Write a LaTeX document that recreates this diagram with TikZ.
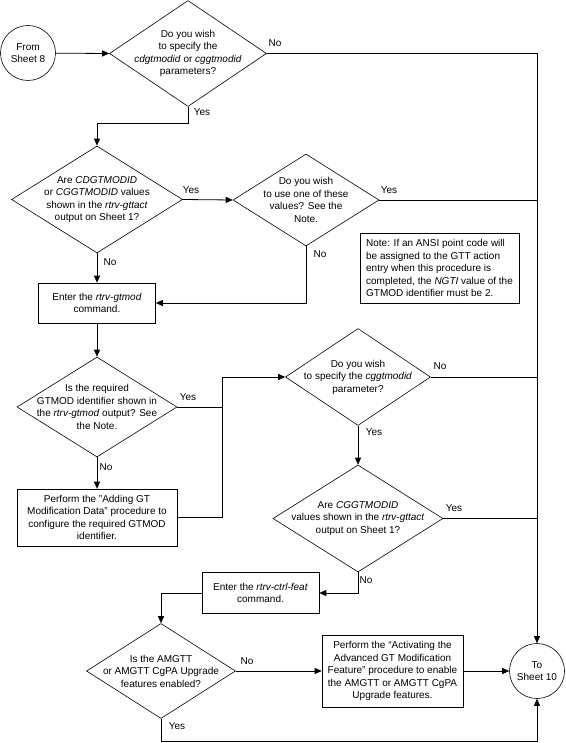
\documentclass[tikz,border=0pt]{standalone}
\usepackage{fontspec}
\setmainfont{Liberation Sans}
\usetikzlibrary{shapes.geometric, arrows.meta}

\begin{document}
\begin{tikzpicture}[x=1pt, y=-1pt, font=\fontsize{10}{12.5}\selectfont,
  decision/.style={draw, diamond, inner sep=0pt, line width=0.6pt},
  procbox/.style={draw, rectangle, inner sep=0pt, line width=0.6pt, align=center},
  sheet/.style={draw, circle, minimum size=55pt, inner sep=0pt, line width=0.6pt, align=center},
  flow/.style={line width=0.8pt, -{Triangle[length=7pt,width=6pt]}},
  plain/.style={line width=0.8pt}]
\useasboundingbox (0,0) rectangle (565,743);
% sheet connectors
\node[sheet] (from8) at (28,53) {From\\Sheet 8};
\node[sheet] (to10) at (537,671) {To\\Sheet 10};
% decisions
\node[decision, minimum width=157pt, minimum height=106pt] (q1) at (188,53.5) {};
\node[align=center] (q1t) at (q1) {Do you wish\\to specify the\\\textit{cdgtmodid} or \textit{cggtmodid}\\parameters?};
\node[decision, minimum width=171pt, minimum height=107pt] (q2) at (97,199.5) {};
\node[align=center] (q2t) at (q2) {Are \textit{CDGTMODID}\\or \textit{CGGTMODID} values\\shown in the \textit{rtrv-gttact}\\output on Sheet 1?};
\node[decision, minimum width=146pt, minimum height=92pt] (q3) at (306,200) {};
\node[align=center] (q3t) at (q3) {Do you wish\\to use one of these\\values? See the\\Note.};
\node[decision, minimum width=160pt, minimum height=100pt] (q4) at (97,407) {};
\node[align=center] (q4t) at (q4) {Is the required\\GTMOD identifier shown in\\the \textit{rtrv-gtmod} output? See\\the Note.};
\node[decision, minimum width=145pt, minimum height=97pt] (q5) at (358,377) {};
\node[align=center] (q5t) at (q5) {Do you wish\\to specify the \textit{cggtmodid}\\parameter?};
\node[decision, minimum width=170pt, minimum height=107pt] (q6) at (358,518.5) {};
\node[align=center] (q6t) at (q6) {Are \textit{CGGTMODID}\\values shown in the \textit{rtrv-gttact}\\output on Sheet 1?};
\node[decision, minimum width=149pt, minimum height=95pt] (q7) at (161,671) {};
\node[align=center] (q7t) at (q7) {Is the AMGTT\\or AMGTT CgPA Upgrade\\features enabled?};
% process boxes
\node[procbox, minimum width=117pt, minimum height=40pt] (gtmod) at (97,303) {Enter the \textit{rtrv-gtmod}\\command.};
\node[procbox, minimum width=160pt, minimum height=57pt] (adding) at (97,517.5) {Perform the "Adding GT\\Modification Data" procedure to\\configure the required GTMOD\\identifier.};
\node[procbox, minimum width=117pt, minimum height=41pt] (ctrlfeat) at (260.5,593) {Enter the \textit{rtrv-ctrl-feat}\\command.};
\node[procbox, minimum width=141pt, minimum height=72pt] (activate) at (392.5,671) {Perform the ``Activating the\\Advanced GT Modification\\Feature" procedure to enable\\the AMGTT or AMGTT CgPA\\Upgrade features.};
\node[draw, line width=0.6pt, minimum width=159pt, minimum height=70pt, inner sep=5pt, align=left] (note) at (439.5,268) {Note: If an ANSI point code will\\be assigned to the GTT action\\entry when this procedure is\\completed, the \textit{NGTI} value of the\\GTMOD identifier must be 2.};
\coordinate (j1) at (222,377);
% connectors
\draw[flow] (from8) -- (q1.west);
\draw[flow] (q1.east) -| (to10.north);
\draw[flow] (q1.south) -- ++(0,17) -| (q2.north);
\draw[flow] (q2.east) -- (q3.west);
\draw[plain] (q3.east) -- (q3.east -| to10.north);
\draw[flow] (q3.south) |- (gtmod.east);
\draw[flow] (q2.south) -- (gtmod.north);
\draw[flow] (gtmod.south) -- (q4.north);
\draw[flow] (q4.east) -| (j1) -- (q5.west);
\draw[plain] (adding.east) -| (j1);
\draw[flow] (q4.south) -- (adding.north);
\draw[plain] (q5.east) -- (q5.east -| to10.north);
\draw[flow] (q5.south) -- (q6.north);
\draw[plain] (q6.east) -- (q6.east -| to10.north);
\draw[flow] (q6.south) |- (ctrlfeat.east);
\draw[flow] (ctrlfeat.west) -| (q7.north);
\draw[flow] (q7.east) -- (activate.west);
\draw[flow] (activate.east) -- (to10.west);
\draw[flow] (q7.south) -- ++(0,23) -| (to10.south);
% branch labels
\node (l1) at (275,43) {No};
\node (l2) at (202,112) {Yes};
\node (l3) at (191,190) {Yes};
\node (l4) at (110,262) {No};
\node (l5) at (389,190) {Yes};
\node (l6) at (320,254) {No};
\node (l7) at (188,397) {Yes};
\node (l8) at (106,467) {No};
\node (l9) at (440,366) {No};
\node (l10) at (374,432) {Yes};
\node (l11) at (454,508) {Yes};
\node (l12) at (366,580) {No};
\node (l13) at (247,661) {No};
\node (l14) at (177,726) {Yes};
\end{tikzpicture}
\end{document}
